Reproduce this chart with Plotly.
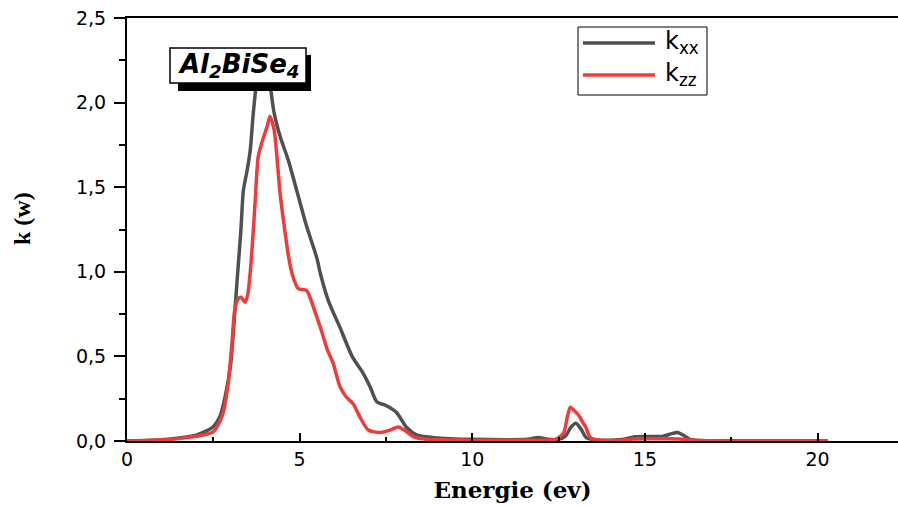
import plotly.graph_objects as go

# ---------------- data ----------------
energy_xx = [0.0, 0.5, 1.0, 1.5, 2.0, 2.3, 2.5, 2.7, 2.85, 3.0, 3.1, 3.2, 3.3, 3.37, 3.48,
             3.57, 3.65, 3.75, 3.85, 3.95, 4.05, 4.15, 4.25, 4.35, 4.45, 4.67, 4.93, 5.2,
             5.5, 5.6, 5.83, 6.17, 6.52, 6.84, 7.04, 7.24, 7.5, 7.8, 8.1, 8.4, 9.0, 9.5,
             10.0, 11.0, 11.6, 11.9, 12.2, 12.5, 12.7, 12.85, 13.0, 13.15, 13.3, 13.6,
             14.0, 14.4, 14.7, 15.0, 15.5, 15.8, 15.95, 16.1, 16.3, 16.6, 17.0, 18.0,
             19.0, 20.3]
k_xx = [0.0, 0.003, 0.008, 0.018, 0.035, 0.06, 0.085, 0.15, 0.27, 0.45, 0.7, 0.98, 1.25,
        1.48, 1.6, 1.72, 1.92, 2.12, 2.27, 2.3, 2.25, 2.1, 1.95, 1.86, 1.79, 1.66, 1.47, 1.27,
        1.08, 0.99, 0.83, 0.67, 0.5, 0.40, 0.32, 0.23, 0.21, 0.17, 0.08, 0.035, 0.018,
        0.012, 0.01, 0.008, 0.01, 0.02, 0.01, 0.01, 0.03, 0.08, 0.105, 0.07, 0.02, 0.005,
        0.005, 0.01, 0.025, 0.027, 0.027, 0.045, 0.05, 0.035, 0.01, 0.003, 0.002, 0.001,
        0.001, 0.0]

energy_zz = [0.0, 0.5, 1.0, 1.5, 2.0, 2.3, 2.5, 2.7, 2.8, 2.93, 3.04, 3.13, 3.22, 3.3,
             3.42, 3.5, 3.57, 3.62, 3.71, 3.8, 3.9, 4.06, 4.14, 4.26, 4.35, 4.43, 4.58,
             4.67, 4.78, 4.96, 5.2, 5.45, 5.65, 5.8, 5.97, 6.17, 6.35, 6.55, 6.75, 6.99,
             7.33, 7.62, 7.86, 8.1, 8.3, 8.7, 9.5, 10.0, 11.0, 12.0, 12.4, 12.64, 12.75,
             12.84, 12.95, 13.07, 13.2, 13.28, 13.42, 13.7, 14.3, 14.7, 15.5, 16.0, 16.4,
             17.0, 18.0, 20.3]
k_zz = [0.0, 0.002, 0.006, 0.014, 0.028, 0.04, 0.055, 0.12, 0.18, 0.34, 0.58, 0.79, 0.84,
        0.85, 0.82, 0.87, 1.0, 1.13, 1.41, 1.68, 1.76, 1.86, 1.92, 1.84, 1.66, 1.47, 1.23,
        1.1, 0.99, 0.90, 0.89, 0.76, 0.64, 0.54, 0.46, 0.32, 0.26, 0.22, 0.14, 0.065, 0.05,
        0.065, 0.083, 0.055, 0.025, 0.01, 0.006, 0.005, 0.004, 0.005, 0.01, 0.045, 0.14,
        0.2, 0.18, 0.155, 0.11, 0.085, 0.02, 0.004, 0.004, 0.012, 0.013, 0.012, 0.004,
        0.001, 0.0, 0.0]

series_names = ["k<sub>xx</sub>", "k<sub>zz</sub>"]
series_colors = ["#505050", "#EE3B3B"]
x_ticks = [0, 5, 10, 15, 20]
y_ticks = [0.0, 0.5, 1.0, 1.5, 2.0, 2.5]
x_title = "Energie (ev)"
y_title = "k (w)"
compound = "<b><i>Al<sub>2</sub>BiSe<sub>4</sub></i></b>"

# ---------------- layout helpers ----------------
W, H = 898, 507
ML, MR, MT, MB = 127, 0, 18, 66
PW, PH = W - ML - MR, H - MT - MB


def px(xp):
    return (xp - ML) / PW


def py(yp):
    return (H - MB - yp) / PH


fig = go.Figure()
for ex, ky, name, col in [(energy_xx, k_xx, series_names[0], series_colors[0]),
                          (energy_zz, k_zz, series_names[1], series_colors[1])]:
    fig.add_trace(go.Scatter(x=ex, y=ky, mode="lines", name=name,
                             line=dict(color=col, width=3.5, shape="spline", smoothing=0.7),
                             showlegend=False))

axis_font = dict(family="DejaVu Sans", size=19, color="black")

fig.update_layout(
    width=W, height=H,
    margin=dict(l=ML, r=MR, t=MT, b=MB, pad=0),
    paper_bgcolor="white", plot_bgcolor="white",
    separators=",.",
    xaxis=dict(range=[0, PW / 34.53], tickvals=x_ticks, ticks="inside", ticklen=8,
               tickwidth=2, tickcolor="black", showline=True, linecolor="black",
               linewidth=2, mirror=True, showgrid=False, zeroline=False,
               tickfont=axis_font,
               minor=dict(ticks="inside", ticklen=4, dtick=2.5, tickwidth=1.5,
                          tickcolor="black", showgrid=False),
               title=dict(text="<b>" + x_title + "</b>",
                          font=dict(family="DejaVu Serif", size=23, color="black"),
                          standoff=13)),
    yaxis=dict(range=[0, 2.5], tickvals=y_ticks, tickformat=".1f", ticks="outside",
               ticklen=11, tickwidth=2, tickcolor="black", showline=True,
               linecolor="black", linewidth=2, showgrid=False, zeroline=False,
               tickfont=axis_font, ticklabelstandoff=4,
               minor=dict(ticks="outside", ticklen=6, dtick=0.25, tickwidth=1.5,
                          tickcolor="black", showgrid=False)),
)

# y axis title placed as in the reference
fig.add_annotation(xref="paper", yref="paper", x=px(22), y=py(219),
                   text="<b>" + y_title + "</b>", textangle=-90, showarrow=False,
                   xanchor="center", yanchor="middle",
                   font=dict(family="Liberation Serif", size=24, color="black"))

# compound label box with drop shadow
fig.add_shape(type="rect", xref="paper", yref="paper", layer="above",
              x0=px(178), x1=px(311), y0=py(91), y1=py(55),
              fillcolor="black", line=dict(width=0))
fig.add_shape(type="rect", xref="paper", yref="paper", layer="above",
              x0=px(170), x1=px(306), y0=py(83), y1=py(48),
              fillcolor="white", line=dict(color="black", width=1.5))
fig.add_annotation(xref="paper", yref="paper", x=px(238), y=py(65), text=compound,
                   showarrow=False, xanchor="center", yanchor="middle",
                   font=dict(family="DejaVu Sans", size=26, color="black"))

# legend box
fig.add_shape(type="rect", xref="paper", yref="paper", layer="above",
              x0=px(578), x1=px(707), y0=py(95), y1=py(27),
              fillcolor="white", line=dict(color="black", width=1))
for i, (name, col) in enumerate(zip(series_names, series_colors)):
    yy = 43 + i * 32
    fig.add_shape(type="line", xref="paper", yref="paper", layer="above",
                  x0=px(583), x1=px(655), y0=py(yy), y1=py(yy),
                  line=dict(color=col, width=3.5))
    fig.add_annotation(xref="paper", yref="paper", x=px(663), y=py(yy), text=name,
                       showarrow=False, xanchor="left", yanchor="middle",
                       font=dict(family="DejaVu Sans", size=24, color="black"))

fig.write_html("out.html")
